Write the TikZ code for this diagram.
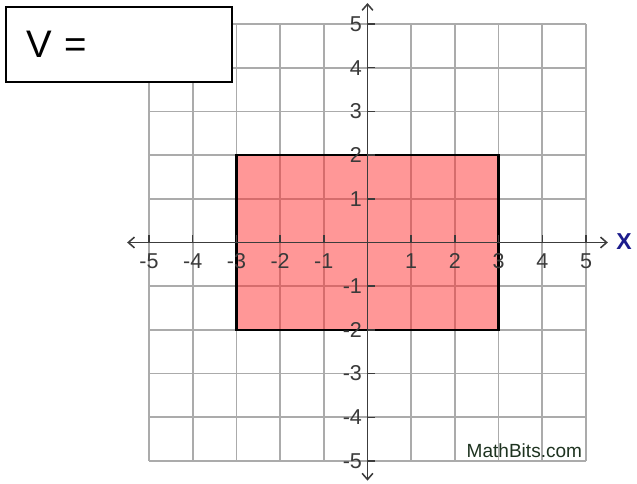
\documentclass[tikz,border=0pt]{standalone}
\usepackage{xcolor}
\usepackage{tikz}
\usepackage{fontspec}
\setmainfont{Liberation Sans}
\usetikzlibrary{arrows.meta, positioning}
\definecolor{gridgray}{HTML}{ABABAB}
\definecolor{axisgray}{HTML}{3C3C3C}
\definecolor{regionred}{HTML}{FF3030}
\definecolor{labelgray}{HTML}{3A3A3A}
\definecolor{xblue}{HTML}{1C1C8C}
\definecolor{markgreen}{HTML}{1E3320}
\tikzstyle{gridline} = [line width=1.1pt, color=gridgray]
\tikzstyle{axis} = [line width=1pt, color=axisgray, {Straight Barb[length=4pt,width=7pt]}-{Straight Barb[length=4pt,width=7pt]}]
\tikzstyle{tick} = [line width=1pt, color=axisgray]
\tikzstyle{ticklabel} = [inner sep=0pt, text=labelgray, font=\fontsize{14}{14}\selectfont]
\tikzstyle{region} = [fill=regionred, fill opacity=0.5, draw=black, draw opacity=1, line width=1.5pt]
\tikzstyle{answerbox} = [rectangle, draw=black, line width=1.5pt, fill=white, minimum height=1.72cm, text width=4.25cm, inner xsep=0.46cm, align=left, font=\fontsize{25}{25}\selectfont]

\begin{document}
\begin{tikzpicture}
    % page frame, same proportions as the reference
    \useasboundingbox[fill=white] (-8.41,-5.526) rectangle (6.167,5.549);

    % grid
    \foreach \k in {-5,...,5} {
        \draw[gridline] (\k,-5) -- (\k,5);
        \draw[gridline] (-5,\k) -- (5,\k);
    }

    % shaded rectangle
    \path[region] (-3,-2) rectangle (3,2);

    % axes
    \coordinate (xmin) at (-5.5,0);
    \coordinate (xmax) at (5.5,0);
    \coordinate (ymin) at (0,-5.45);
    \coordinate (ymax) at (0,5.48);
    \draw[axis] (xmin) -- (xmax);
    \draw[axis] (ymin) -- (ymax);

    % ticks and labels
    \foreach \k in {-5,...,-1,1,2,3,4,5} {
        \draw[tick] (\k,0) -- (\k,0.17);
        \draw[tick] (0,\k) -- (0.18,\k);
        \node[ticklabel] (xl\k) at (\k,-0.42) {\k};
        \node[ticklabel, anchor=east] (yl\k) at (-0.12,\k) {\k};
    }

    \node[text=xblue, font=\fontsize{15}{15}\selectfont\bfseries, inner sep=0pt] (xname) at (5.87,0.02) {X};
    \node[text=markgreen, font=\fontsize{12.4}{12.4}\selectfont, inner sep=0pt] (mark) at (3.59,-4.76) {MathBits.com};

    % answer box
    \node[answerbox] (vbox) at (-5.685,4.53) {V =};
\end{tikzpicture}
\end{document}
